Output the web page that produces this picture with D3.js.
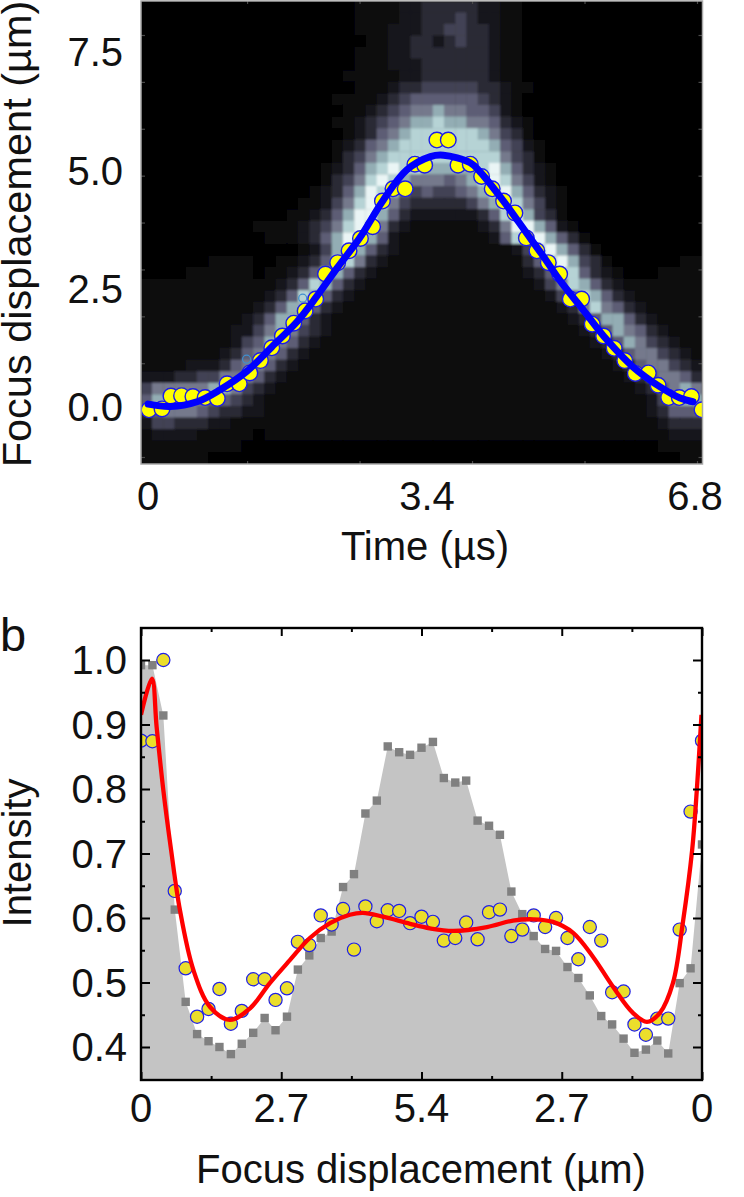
<!DOCTYPE html>
<html><head><meta charset="utf-8">
<script src="https://cdn.jsdelivr.net/npm/d3@7"></script>
<style>html,body{margin:0;padding:0;background:#fff}svg{display:block}text{font-family:"Liberation Sans",Arial,sans-serif;fill:#111}</style>
</head><body><svg id="c" width="744" height="1197"></svg>
<script>
// ---------- panel a: intensity map, one string per row, one digit per column (0 dark .. 9 bright)
const heatRows = [
"0000000000 0000000001 1112233333 2211000000 0000000000",
"0000000000 0000000001 1112233343 2211000000 0000000000",
"0000000000 0000000001 1122233443 3211000000 0000000000",
"0000000000 0000000000 1122332343 3211000000 0000000000",
"0000000000 0000000001 1122333333 3211000000 0000000000",
"0000000000 0000000001 1122233333 3211000000 0000000000",
"0000000000 0000000011 1112233333 3211000000 0000000000",
"0000000000 0000000001 1123344444 3321100000 0000000000",
"0000000000 0000000111 1234555555 4321000000 0000000000",
"0000000000 0000000011 2345667665 5421000000 0000000000",
"0000000000 0000000112 3456778776 6532100000 0000000000",
"0000000000 0000000012 3567888888 7643100000 0000000000",
"0000000000 0000000123 5678888888 8754210000 0000000000",
"0000000000 0000000134 6788888888 8864310000 0000000000",
"0000000000 0000001235 7898877777 8975321000 0000000000",
"0000000000 0000001346 8987666567 8986421000 0000000000",
"0000000000 0000012357 9875454456 7897532100 0000000000",
"0000000000 0000112468 9864333334 6798642100 0000000000",
"0000000000 0001123579 9753222222 3589743100 0000000000",
"0000000000 1111234689 8632111111 2369975210 0000000000",
"0000000000 0111235798 7521111111 1258997531 0000000000",
"0000000000 0000124797 5321111111 1112489753 1000000000",
"0000001111 0011235886 3211111111 1111358974 3100000011",
"0000111111 0112358753 2111111111 1111235885 3210001111",
"1111111111 1123587532 1111111111 1111124687 5321111111",
"1111111111 1235875321 1111111111 1111112468 7532111111",
"1111111111 2357753211 1111111111 1111111236 8653211111",
"1111111112 3577532111 1111111111 1111111123 5775321111",
"1111111122 4676432111 1111111111 1111111112 3576532111",
"1111111124 5765321111 1111111111 1111111111 2357643211",
"1111111235 6653211111 1111111111 1111111111 1235664321",
"1111222356 6532111111 1111111111 1111111111 1123566432",
"2223344666 5321111111 1111111111 1111111111 1112356653",
"4666667764 3211111111 1111111111 1111111111 1111235676",
"5777665543 2111111111 1111111111 1111111111 1111124677",
"3566654332 2111111111 1111111111 1111111111 1111123555",
"2443332211 1111111111 1111111111 1111111111 1111112333",
"1222211111 0111111111 1111111111 1111111111 1111111222",
"1111111110 0000000000 0000000000 0000000000 0000001111",
"1111110000 0000000000 0000000000 0000000000 0000000011"
];
const heatLevels = [0,1,2,3,4,5,6,7,8,9];
const heatColors = ["#000000","#08080b","#15151b","#2a2a36","#434354","#5d5d74","#75798c","#93adb4","#b6d3d5","#eaf5f5"];

const timeA = [0,.16,.27,.40,.54,.69,.84,.96,1.11,1.24,1.37,1.51,1.64,1.78,1.92,2.05,2.17,2.32,2.46,2.60,2.75,2.87,3.00,3.15,3.27,3.39,3.54,3.68,3.80,3.95,4.09,4.22,4.36,4.50,4.64,4.77,4.91,5.05,5.18,5.32,5.45,5.59,5.72,5.85,5.98,6.14,6.26,6.39,6.52,6.67,6.80];
const focusA = [-.06,-.04,.23,.24,.22,.20,.18,.49,.49,.72,.98,1.25,1.50,1.77,2.03,2.28,2.81,3.05,3.30,3.56,3.81,4.35,4.61,4.61,5.13,5.11,5.64,5.64,5.11,5.13,4.87,4.61,4.35,4.10,3.57,3.30,3.05,2.81,2.28,2.28,1.75,1.50,1.24,.98,.71,.72,.46,.20,.20,.22,-.06];
const fitTimeA = [-.01,.26,.59,.87,1.20,1.51,1.82,2.06,2.31,2.59,2.88,3.17,3.46,3.62,3.95,4.07,4.35,4.64,4.85,5.05,5.34,5.63,5.95,6.28,6.53,6.69];
const fitFocusA = [.06,.01,.11,.36,.75,1.27,1.80,2.33,2.93,3.57,4.37,5.01,5.29,5.32,5.16,4.97,4.37,3.68,3.18,2.68,2.05,1.42,.85,.43,.19,.11];
const hiddenTimeA = [1.20,1.89];
const hiddenFocusA = [1.01,2.30];
const yTicksA = [7.5,5.0,2.5,0.0];
const xLabelsA = ["0","3.4","6.8"];

// ---------- panel b
const posB = [0,.22,.43,.65,.86,1.08,1.30,1.51,1.73,1.94,2.16,2.38,2.59,2.81,3.02,3.24,3.46,3.67,3.89,4.10,4.32,4.54,4.75,4.97,5.18,5.40,5.62,5.83,6.05,6.26,6.48,6.70,6.91,7.13,7.34,7.56,7.78,7.99,8.21,8.42,8.64,8.86,9.07,9.29,9.50,9.72,9.94,10.15,10.37,10.58,10.80];
const grayB = [.992,.992,.914,.613,.470,.420,.409,.400,.389,.405,.422,.445,.426,.447,.520,.542,.569,.579,.648,.668,.762,.782,.866,.857,.853,.864,.873,.817,.810,.813,.751,.743,.729,.641,.606,.572,.552,.549,.524,.507,.480,.448,.435,.413,.391,.396,.410,.390,.499,.522,.714];
const yellowB = [.875,.874,1.0,.642,.522,.447,.459,.490,.436,.456,.505,.505,.473,.491,.563,.558,.604,.590,.614,.551,.618,.595,.612,.611,.592,.602,.594,.565,.569,.593,.567,.609,.613,.572,.582,.604,.586,.600,.569,.536,.586,.565,.485,.486,.435,.419,.444,.444,.582,.765,.875];
const fitPosB = [0,.21,.30,.43,.58,.75,1.01,1.33,1.71,2.10,2.48,2.87,3.25,3.64,4.02,4.27,4.66,5.18,5.56,6.01,6.66,7.16,7.55,7.93,8.32,8.70,9.09,9.47,9.74,9.99,10.24,10.43,10.61,10.70,10.79];
const fitValB = [.915,.971,.897,.798,.705,.612,.519,.462,.442,.460,.499,.535,.569,.592,.605,.608,.602,.591,.584,.580,.586,.596,.598,.594,.577,.540,.493,.453,.439,.453,.499,.592,.705,.798,.915];
const xTicksB = [0,2.7,5.4,8.1,10.8];
const xMinorB = [1.35,4.05,6.75,9.45];
const xTickNamesB = ["0","2.7","5.4","2.7","0"];
const yMajorB = [.4,.5,.6,.7,.8,.9,1.0];
const yMinorB = [.45,.55,.65,.75,.85,.95];

const svg = d3.select("#c");
const defs = svg.append("defs");
defs.append("clipPath").attr("id","clipA").append("rect").attr("x",141).attr("y",1).attr("width",561.5).attr("height",463);
defs.append("clipPath").attr("id","clipB").append("rect").attr("x",141).attr("y",628).attr("width",561).attr("height",452);
defs.append("filter").attr("id","soft").attr("x","-2%").attr("y","-2%").attr("width","104%").attr("height","104%")
  .append("feGaussianBlur").attr("stdDeviation",1.3);

// ---------- panel a
const matrix = heatRows.map(r => r.replace(/ /g,"").split("").map(Number));
const colBand = d3.scaleBand().domain(d3.range(matrix[0].length)).range([141,702.5]);
const rowBand = d3.scaleBand().domain(d3.range(matrix.length)).range([1,464]);
const heatColor = d3.scaleLinear().domain(heatLevels).range(heatColors);
const xA = d3.scaleLinear().domain([0,6.8]).range([149,702]);
const yA = d3.scaleLinear().domain([0,7.5]).range([407,52]);

const gA = svg.append("g");
gA.append("rect").attr("x",141).attr("y",1).attr("width",561.5).attr("height",463).attr("fill","#000");
const heatG = gA.append("g").attr("clip-path","url(#clipA)").append("g").attr("filter","url(#soft)");
matrix.forEach((row,r)=>{
  heatG.selectAll(null).data(row).enter().append("rect")
    .attr("x",(d,c)=>colBand(c)-0.2).attr("y",rowBand(r)-0.2)
    .attr("width",colBand.bandwidth()+0.4).attr("height",rowBand.bandwidth()+0.4)
    .attr("fill",d=>heatColor(d));
});

// faint frame ticks of panel a
const frameXA = d3.scaleLinear().domain([0,5]).range([134.6,697]);
const frameYA = d3.scaleLinear().domain([0,9]).range([35,457]);
function faint(g){ g.select(".domain").remove(); g.selectAll("line").attr("stroke","#4a4a4a").attr("stroke-width",1.2); g.selectAll("text").remove(); }
gA.append("g").attr("transform","translate(0,464)").call(d3.axisTop(frameXA).tickValues([1,2,3,4,5]).tickSize(3)).call(faint);
gA.append("g").attr("transform","translate(0,1)").call(d3.axisBottom(frameXA).tickValues([1,2,3,4,5]).tickSize(3)).call(faint);
gA.append("g").attr("transform","translate(141,0)").call(d3.axisRight(frameYA).tickValues(d3.range(10)).tickSize(4)).call(faint);
gA.append("g").attr("transform","translate(702.5,0)").call(d3.axisLeft(frameYA).tickValues(d3.range(10)).tickSize(4)).call(faint);

const marksA = gA.append("g").attr("clip-path","url(#clipA)");
marksA.selectAll(".hid").data(hiddenTimeA).enter().append("circle").attr("class","hid")
  .attr("cx",d=>xA(d)).attr("cy",(d,i)=>yA(hiddenFocusA[i])).attr("r",4)
  .attr("fill","none").attr("stroke","#3f90cf").attr("stroke-width",1.2);
marksA.selectAll(".pt").data(timeA).enter().append("circle").attr("class","pt")
  .attr("cx",d=>xA(d)).attr("cy",(d,i)=>yA(focusA[i])).attr("r",7.8)
  .attr("fill","#ffff00").attr("stroke","#1c1ce8").attr("stroke-width",1.4);
const fitLineA = d3.line().x(d=>xA(d[0])).y(d=>yA(d[1])).curve(d3.curveCatmullRom.alpha(0.5));
marksA.append("path").attr("d",fitLineA(d3.zip(fitTimeA,fitFocusA)))
  .attr("fill","none").attr("stroke","#0000ff").attr("stroke-width",7).attr("stroke-linecap","round").attr("stroke-linejoin","round");

gA.append("rect").attr("x",141).attr("y",1).attr("width",561.5).attr("height",463)
  .attr("fill","none").attr("stroke","#a8a8a8").attr("stroke-width",1.5);

const FS = 40;
gA.selectAll(".yl").data(yTicksA).enter().append("text").attr("class","yl")
  .attr("x",123).attr("y",d=>yA(d)).attr("dy","0.36em").attr("text-anchor","end").attr("font-size",FS)
  .text(d=>d.toFixed(1));
const xLabelPos = d3.scaleOrdinal().domain(xLabelsA).range([148,427,695]);
gA.selectAll(".xl").data(xLabelsA).enter().append("text").attr("class","xl")
  .attr("x",d=>xLabelPos(d)).attr("y",510).attr("text-anchor","middle").attr("font-size",FS).text(d=>d);
gA.append("text").attr("x",425).attr("y",560).attr("text-anchor","middle").attr("font-size",FS).text("Time (µs)");
gA.append("text").attr("transform","translate(31,234) rotate(-90)").attr("text-anchor","middle").attr("font-size",41.5).text("Focus displacement (µm)");

// ---------- panel b
const xB = d3.scaleLinear().domain([0,10.8]).range([141,702]);
const yB = d3.scaleLinear().domain([.4,1.0]).range([1047,660]);
const gB = svg.append("g");
const plotB = gB.append("g").attr("clip-path","url(#clipB)");
const area = d3.area().x(d=>xB(d[0])).y0(1080).y1(d=>yB(d[1]));
plotB.append("path").attr("d",area(d3.zip(posB,grayB))).attr("fill","#c4c4c4");
plotB.selectAll(".sq").data(posB).enter().append("rect").attr("class","sq")
  .attr("x",d=>xB(d)-4.2).attr("y",(d,i)=>yB(grayB[i])-4.2).attr("width",8.4).attr("height",8.4).attr("fill","#808080");
plotB.selectAll(".ci").data(posB).enter().append("circle").attr("class","ci")
  .attr("cx",d=>xB(d)).attr("cy",(d,i)=>yB(yellowB[i])).attr("r",6.6)
  .attr("fill","#ebde2b").attr("stroke","#1f1fe6").attr("stroke-width",1.2);
const fitLineB = d3.line().x(d=>xB(d[0])).y(d=>yB(d[1])).curve(d3.curveCatmullRom.alpha(0.5));
plotB.append("path").attr("d",fitLineB(d3.zip(fitPosB,fitValB)))
  .attr("fill","none").attr("stroke","#ff0000").attr("stroke-width",4.3).attr("stroke-linejoin","round");

function ink(g){ g.select(".domain").remove(); g.selectAll("line").attr("stroke","#000").attr("stroke-width",2); g.selectAll("text").remove(); }
gB.append("g").attr("transform","translate(0,1080)").call(d3.axisTop(xB).tickValues(xTicksB).tickSize(8)).call(ink);
gB.append("g").attr("transform","translate(0,1080)").call(d3.axisTop(xB).tickValues(xMinorB).tickSize(4)).call(ink);
gB.append("g").attr("transform","translate(0,628)").call(d3.axisBottom(xB).tickValues(xTicksB).tickSize(8)).call(ink);
gB.append("g").attr("transform","translate(0,628)").call(d3.axisBottom(xB).tickValues(xMinorB).tickSize(4)).call(ink);
gB.append("g").attr("transform","translate(141,0)").call(d3.axisRight(yB).tickValues(yMajorB).tickSize(9)).call(ink);
gB.append("g").attr("transform","translate(141,0)").call(d3.axisRight(yB).tickValues(yMinorB).tickSize(4)).call(ink);
gB.append("g").attr("transform","translate(702,0)").call(d3.axisLeft(yB).tickValues(yMajorB).tickSize(9)).call(ink);
gB.append("g").attr("transform","translate(702,0)").call(d3.axisLeft(yB).tickValues(yMinorB).tickSize(4)).call(ink);
gB.append("rect").attr("x",141).attr("y",628).attr("width",561).attr("height",452)
  .attr("fill","none").attr("stroke","#000").attr("stroke-width",2.4);

gB.selectAll(".yl").data(yMajorB).enter().append("text").attr("class","yl")
  .attr("x",127).attr("y",d=>yB(d)).attr("dy","0.36em").attr("text-anchor","end").attr("font-size",FS).text(d=>d.toFixed(1));
gB.selectAll(".xl").data(xTicksB).enter().append("text").attr("class","xl")
  .attr("x",d=>xB(d)).attr("y",1122).attr("text-anchor","middle").attr("font-size",FS).text((d,i)=>xTickNamesB[i]);
gB.append("text").attr("x",421).attr("y",1183).attr("text-anchor","middle").attr("font-size",FS).text("Focus displacement (µm)");
gB.append("text").attr("transform","translate(31,853) rotate(-90)").attr("text-anchor","middle").attr("font-size",FS).text("Intensity");
gB.append("text").attr("x",0).attr("y",651).attr("font-size",47).text("b");
</script></body></html>
